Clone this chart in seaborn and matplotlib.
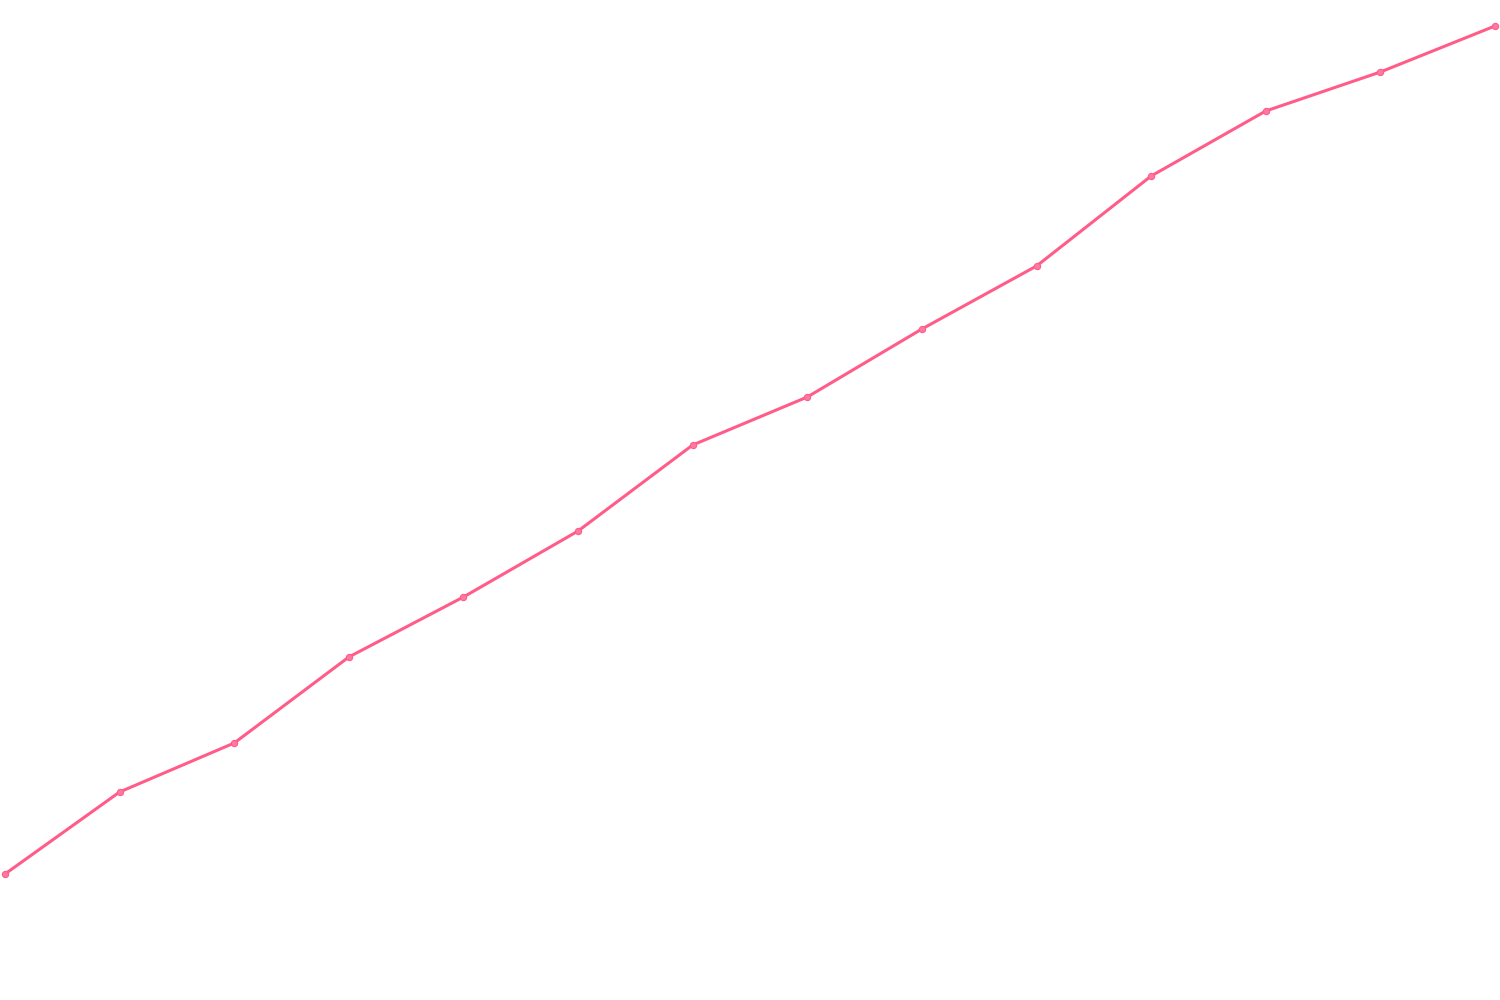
import numpy as np
import pandas as pd
import matplotlib
matplotlib.use("Agg")
import matplotlib.pyplot as plt
import seaborn as sns

# data (arbitrary units, 0-1000 scale)
steps = list(range(14))
values = [126, 208, 257, 343, 403, 469, 555, 603, 671, 734, 824, 889, 928, 974]

df = pd.DataFrame({"step": steps, "value": values})

sns.set_style("white")
fig = plt.figure(figsize=(15, 10), dpi=100)
ax = fig.add_axes([0, 0, 1, 1])

sns.lineplot(data=df, x="step", y="value", ax=ax, color="#ff5c8a",
             linewidth=2.2, marker="o", markersize=4.5,
             markerfacecolor="#ff7aa0", markeredgecolor="#ff5c8a",
             markeredgewidth=0.8)

ax.set_xlim(-0.0436, 13.0436)
ax.set_ylim(0, 1000)
ax.axis("off")

fig.savefig("out.png", dpi=100, facecolor="white")
